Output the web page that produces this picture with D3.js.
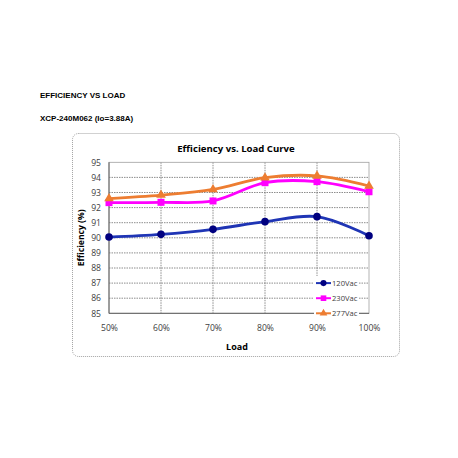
<!DOCTYPE html>
<html>
<head>
<meta charset="utf-8">
<script src="https://cdn.jsdelivr.net/npm/d3@7"></script>
<style>
  body { margin: 0; background: #fff; }
  svg text { fill: #404040; }
</style>
</head>
<body>
<div id="chartDiv"></div>
<script>
// values
var loads = ["50%", "60%", "70%", "80%", "90%", "100%"];
var yTicks = [85, 86, 87, 88, 89, 90, 91, 92, 93, 94, 95];
var eff120 = [90.05, 90.23, 90.56, 91.07, 91.40, 90.14];
var eff230 = [92.33, 92.35, 92.44, 93.65, 93.72, 93.05];
var eff277 = [92.60, 92.83, 93.20, 93.98, 94.10, 93.43];
var seriesNames = ["120Vac", "230Vac", "277Vac"];

;(function() {

	var width = 458, height = 458;
	var plot = { left: 109, right: 369, top: 162.3, bottom: 313.3 };

	var series = [
		{ name: seriesNames[0], values: eff120, line: "#1f35b5", marker: "#000080", shape: "circle" },
		{ name: seriesNames[1], values: eff230, line: "#ff00ff", marker: "#ff00ff", shape: "square" },
		{ name: seriesNames[2], values: eff277, line: "#ed7d31", marker: "#ed7d31", shape: "triangle" }
	];

	var svg = d3.select("#chartDiv").append("svg")
		.attr("width", width)
		.attr("height", height);

	// page headers
	svg.append("text")
		.attr("x", 40).attr("y", 97.5)
		.style("font", "bold 8px 'Liberation Sans', Arial, sans-serif")
		.style("fill", "#000")
		.text("EFFICIENCY VS LOAD");
	svg.append("text")
		.attr("x", 40).attr("y", 121)
		.style("font", "bold 8px 'Liberation Sans', Arial, sans-serif")
		.style("fill", "#000")
		.text("XCP-240M062 (Io=3.88A)");

	// chart frame (dotted rounded box)
	svg.append("rect")
		.attr("x", 72.5).attr("y", 133.5)
		.attr("width", 327).attr("height", 223)
		.attr("rx", 6)
		.attr("fill", "#fff")
		.attr("stroke", "#8c8c8c")
		.attr("stroke-width", 0.8)
		.attr("stroke-dasharray", "1,1");

	var x = d3.scalePoint().domain(loads).range([plot.left, plot.right]);
	var y = d3.scaleLinear().domain([85, 95]).range([plot.bottom, plot.top]);

	var g = svg.append("g");

	// gridlines
	g.selectAll(".hgrid").data(yTicks.slice(1, -1)).enter().append("line")
		.attr("x1", plot.left).attr("x2", plot.right)
		.attr("y1", function(d) { return y(d); }).attr("y2", function(d) { return y(d); })
		.attr("stroke", "#707070").attr("stroke-width", 0.8).attr("stroke-dasharray", "1.5,1");
	g.selectAll(".vgrid").data(loads.slice(1, -1)).enter().append("line")
		.attr("y1", plot.top).attr("y2", plot.bottom)
		.attr("x1", function(d) { return x(d); }).attr("x2", function(d) { return x(d); })
		.attr("stroke", "#707070").attr("stroke-width", 0.8).attr("stroke-dasharray", "1.5,1");

	// plot border
	g.append("rect")
		.attr("x", plot.left).attr("y", plot.top)
		.attr("width", plot.right - plot.left).attr("height", plot.bottom - plot.top)
		.attr("fill", "none").attr("stroke", "#a0a0a0").attr("stroke-width", 0.8);
	g.append("line")
		.attr("x1", plot.left).attr("x2", plot.left).attr("y1", plot.top).attr("y2", plot.bottom)
		.attr("stroke", "#606060").attr("stroke-width", 1);
	g.append("line")
		.attr("x1", plot.left).attr("x2", plot.right).attr("y1", plot.bottom).attr("y2", plot.bottom)
		.attr("stroke", "#606060").attr("stroke-width", 1);

	// axes (text only, ticks drawn by d3)
	var yAxis = svg.append("g")
		.attr("transform", "translate(" + plot.left + ",0)")
		.call(d3.axisLeft(y).tickValues(yTicks).tickSize(0).tickPadding(8).tickFormat(d3.format("d")));
	var xAxis = svg.append("g")
		.attr("transform", "translate(0," + plot.bottom + ")")
		.call(d3.axisBottom(x).tickSize(0).tickPadding(12));
	[yAxis, xAxis].forEach(function(a) {
		a.select(".domain").remove();
		a.selectAll("text")
			.attr("fill", "#595959")
			.style("font-family", "'Open Sans', sans-serif")
			.style("font-size", "8.6px");
	});

	// title and axis labels
	svg.append("text")
		.attr("x", 236).attr("y", 152)
		.attr("text-anchor", "middle")
		.style("font", "bold 9.6px 'Open Sans', sans-serif")
		.style("fill", "#000")
		.text("Efficiency vs. Load Curve");
	svg.append("text")
		.attr("x", 237).attr("y", 350)
		.attr("text-anchor", "middle")
		.style("font", "bold 9px 'Open Sans', sans-serif")
		.style("fill", "#000")
		.text("Load");
	svg.append("text")
		.attr("transform", "translate(84," + ((plot.top + plot.bottom) / 2) + ") rotate(-90)")
		.attr("text-anchor", "middle")
		.style("font", "bold 8.6px 'Open Sans', sans-serif")
		.style("fill", "#000")
		.text("Efficiency (%)");

	var line = d3.line()
		.x(function(d, i) { return x(loads[i]); })
		.y(function(d) { return y(d); })
		.curve(d3.curveCatmullRom.alpha(0.5));

	function drawMarker(sel, shape, color, cx, cy, k) {
		k = k || 1;
		if (shape == "circle") {
			sel.append("circle").attr("cx", cx).attr("cy", cy).attr("r", 3.8 * k).attr("fill", color);
		} else if (shape == "square") {
			sel.append("rect").attr("x", cx - 3.5 * k).attr("y", cy - 3.5 * k)
				.attr("width", 7 * k).attr("height", 7 * k).attr("fill", color);
		} else {
			sel.append("path")
				.attr("d", d3.symbol().type(d3.symbolTriangle).size(40 * k * k)())
				.attr("transform", "translate(" + cx + "," + cy + ")")
				.attr("fill", color);
		}
	}

	series.forEach(function(s) {
		var sg = svg.append("g").attr("class", "series");
		sg.append("path")
			.attr("d", line(s.values))
			.attr("fill", "none")
			.attr("stroke", s.line)
			.attr("stroke-width", 2.8);
		s.values.forEach(function(v, i) {
			drawMarker(sg, s.shape, s.marker, x(loads[i]), y(v));
		});
	});

	// legend, sitting in the lower right of the plot
	var legend = svg.append("g");
	legend.append("rect")
		.attr("x", 314).attr("y", 276)
		.attr("width", 45).attr("height", 40)
		.attr("fill", "#fff");
	series.forEach(function(s, i) {
		var ly = y(87 - i);
		legend.append("line")
			.attr("x1", 316).attr("x2", 331).attr("y1", ly).attr("y2", ly)
			.attr("stroke", s.line).attr("stroke-width", 2);
		drawMarker(legend, s.shape, s.marker, 323.5, ly, 0.8);
		legend.append("text")
			.attr("x", 332).attr("y", ly + 2.8)
			.style("font", "7.6px 'Open Sans', sans-serif")
			.style("fill", "#404040")
			.text(s.name);
	});

})();
</script>
</body>
</html>
